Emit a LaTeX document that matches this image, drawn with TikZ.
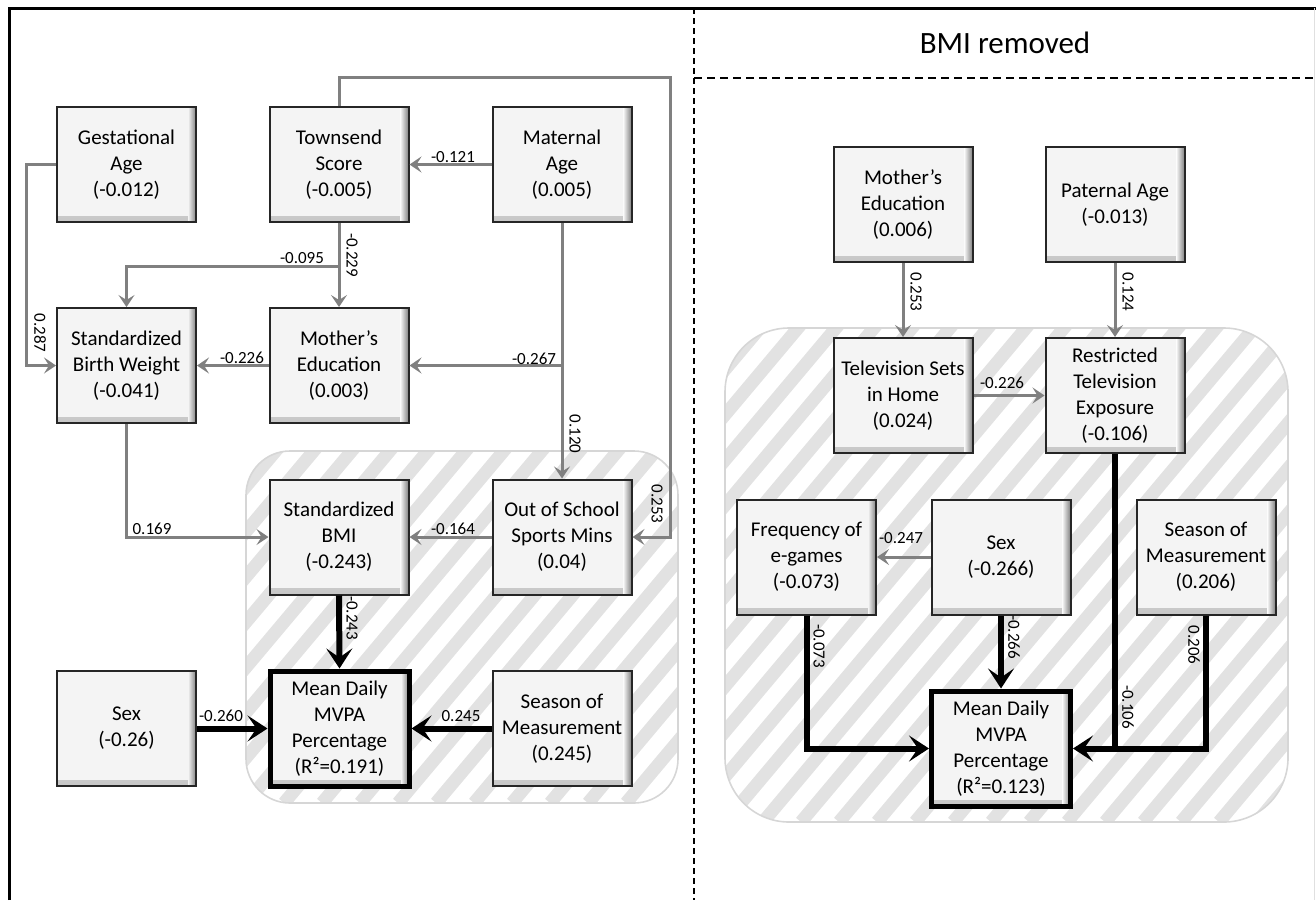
\documentclass[tikz,border=0pt]{standalone}
\usepackage{fontspec}
\setmainfont{Carlito}
\usepackage{tikz}
\usetikzlibrary{arrows.meta, positioning}
\definecolor{pathgray}{RGB}{128,128,128}
\definecolor{boxfill}{RGB}{244,244,244}
\definecolor{stripe}{RGB}{226,226,226}
\definecolor{zoneline}{RGB}{214,214,214}

\begin{document}
\begin{tikzpicture}[
  x=0.5pt, y=-0.5pt,
  var/.style={rectangle, draw=black!85, line width=1pt, fill=boxfill,
              minimum width=69.5pt, minimum height=57.5pt, inner sep=1pt,
              font=\fontsize{10.5}{13}\selectfont, align=center,
              path picture={
                \shade[top color=boxfill, bottom color=black!22]
                  ([yshift=3pt]path picture bounding box.south west) rectangle (path picture bounding box.south east);
                \shade[left color=boxfill, right color=black!50]
                  ([xshift=-4pt]path picture bounding box.north east) rectangle (path picture bounding box.south east);
              }},
  outcome/.style={var, draw=black, line width=2.5pt},
  elab/.style={font=\fontsize{8.5}{10}\selectfont, inner sep=0pt},
  vlab/.style={elab, rotate=-90},
  garr/.style={draw=pathgray, line width=1.5pt, -{Stealth[length=6pt, width=8pt, inset=2.5pt]}},
  barr/.style={draw=black, line width=3pt, -{Stealth[length=10pt, width=13pt, inset=4.5pt]}},
  bline/.style={draw=black, line width=3pt},
  frame/.style={draw=black, line width=1.5pt},
  divider/.style={draw=black, line width=1pt, dash pattern=on 3pt off 2pt}
]
  \useasboundingbox (0,0) rectangle (1316,900);

  % Frame and panel split
  \draw[frame] (9,900) -- (9,8) -- (1316,8);
  \draw[black!12, line width=0.5pt] (1314,8) -- (1314,900);
  \draw[divider] (694,8) -- (694,900);
  \draw[draw=black, line width=1pt, dash pattern=on 4pt off 2.5pt] (694,78) -- (1316,78);
  \node[font=\fontsize{15.5}{18}\selectfont] (title) at (1005,43) {BMI removed};

  % Hatched zones
  \begin{scope}
    \clip[rounded corners=22pt] (246,451) rectangle (678,803);
    \foreach \s in {-304,-266,...,440}
      \draw[stripe, line width=6.5pt] (246+\s,803) -- ++(420,-500);
  \end{scope}
  \draw[zoneline, line width=0.8pt, rounded corners=22pt] (246,451) rectangle (678,803);
  \begin{scope}
    \clip[rounded corners=32pt] (725,328) rectangle (1288,822);
    \foreach \s in {-418,-380,...,570}
      \draw[stripe, line width=6.5pt] (725+\s,822) -- ++(504,-600);
  \end{scope}
  \draw[zoneline, line width=0.8pt, rounded corners=32pt] (725,328) rectangle (1288,822);

  % Left panel — full model
  \node[var] (gest) at (126.5,164.5) {Gestational\\Age\\(-0.012)};
  \node[var] (town) at (339,164.5)   {Townsend\\Score\\(-0.005)};
  \node[var] (mat)  at (562,164.5)   {Maternal\\Age\\(0.005)};
  \node[var] (sbw)  at (126.5,365.5) {Standardized\\Birth Weight\\(-0.041)};
  \node[var] (medu) at (339,365.5)   {Mother’s\\Education\\(0.003)};
  \node[var] (sbmi) at (339,537)     {Standardized\\BMI\\(-0.243)};
  \node[var] (oss)  at (562,537)     {Out of School\\Sports Mins\\(0.04)};
  \node[var] (sexL) at (126.5,728.5) {Sex\\(-0.26)};
  \node[outcome] (mvpaL) at (339.5,728.5) {Mean Daily\\MVPA\\Percentage\\(R²=0.191)};
  \node[var] (seasL) at (562,728.5)  {Season of\\Measurement\\(0.245)};

  % Right panel — BMI removed
  \node[var] (medR)  at (903,204.5)  {Mother’s\\Education\\(0.006)};
  \node[var] (pat)   at (1115,204.5) {Paternal Age\\(-0.013)};
  \node[var] (tv)    at (903,395.5)  {Television Sets\\in Home\\(0.024)};
  \node[var] (rtv)   at (1115,395.5) {Restricted\\Television\\Exposure\\(-0.106)};
  \node[var] (freq)  at (806.5,557)  {Frequency of\\e-games\\(-0.073)};
  \node[var] (sexR)  at (1001,557)   {Sex\\(-0.266)};
  \node[var] (seasR) at (1206,557)   {Season of\\Measurement\\(0.206)};
  \node[outcome] (mvpaR) at (1001,748.5) {Mean Daily\\MVPA\\Percentage\\(R²=0.123)};

  \coordinate (split) at (339,266);
  \coordinate (loop)  at (670,77);

  % Left paths
  \draw[garr] (gest.west) -- ++(-30,0) |- (sbw.west);
  \draw[garr] (mat.west)  -- (town.east);
  \draw[garr] (town.south) -- (medu.north);
  \draw[garr] (split) -| (sbw.north);
  \draw[garr] (medu.west) -- (sbw.east);
  \draw[garr] (mat.south) |- (medu.east);
  \draw[garr] (mat.south) -- (oss.north);
  \draw[garr] (town.north) |- (loop) |- (oss.east);
  \draw[garr] (sbw.south) |- (sbmi.west);
  \draw[garr] (oss.west)  -- (sbmi.east);
  \draw[barr] (sbmi.south) -- (mvpaL.north);
  \draw[barr] (sexL.east)  -- (mvpaL.west);
  \draw[barr] (seasL.west) -- (mvpaL.east);

  % Right paths
  \draw[garr] (medR.south) -- (tv.north);
  \draw[garr] (pat.south)  -- (rtv.north);
  \draw[garr] (tv.east)    -- (rtv.west);
  \draw[garr] (sexR.west)  -- (freq.east);
  \draw[barr] (freq.south) |- (mvpaR.west);
  \draw[barr] (sexR.south) -- (mvpaR.north);
  \draw[barr] (rtv.south)  |- (mvpaR.east);
  \draw[bline] (seasR.south) |- (mvpaR.east -| rtv.south);

  % Labels
  \node[vlab] (l287)  at (40,333)   {0.287};
  \node[elab] (l121)  at (453,157)  {-0.121};
  \node[vlab] (l229)  at (352,255)  {-0.229};
  \node[elab] (l095)  at (302,258)  {-0.095};
  \node[elab] (l226)  at (242,358)  {-0.226};
  \node[elab] (l267)  at (534,359)  {-0.267};
  \node[vlab] (l120)  at (575,434)  {0.120};
  \node[vlab] (l253)  at (657,504)  {0.253};
  \node[elab] (l169)  at (152,529)  {0.169};
  \node[elab] (l164)  at (453,529)  {-0.164};
  \node[vlab] (l243)  at (352,618)  {-0.243};
  \node[elab] (l260)  at (221,716)  {-0.260};
  \node[elab] (l245)  at (461,716)  {0.245};

  \node[vlab] (r253)  at (916,292)  {0.253};
  \node[vlab] (r124)  at (1128,292) {0.124};
  \node[elab] (r226)  at (1002,383) {-0.226};
  \node[elab] (r247)  at (901,538)  {-0.247};
  \node[vlab] (r073)  at (819,646)  {-0.073};
  \node[vlab] (r266)  at (1014,637) {-0.266};
  \node[vlab] (r106)  at (1128,707) {-0.106};
  \node[vlab] (r206)  at (1194,645) {0.206};
\end{tikzpicture}
\end{document}
